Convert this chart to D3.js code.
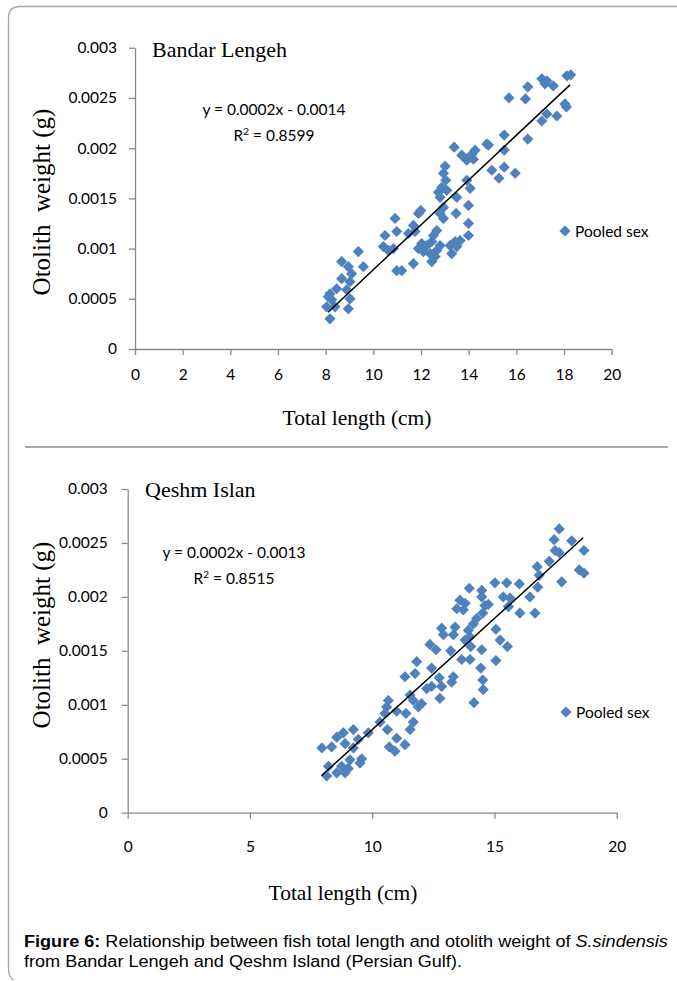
<!DOCTYPE html>
<html><head><meta charset="utf-8">
<script src="https://cdn.jsdelivr.net/npm/d3@7"></script>
<style>html,body{margin:0;padding:0;background:#fff;}svg{display:block;}</style>
</head><body>
<script>
// ---- Data: Bandar Lengeh ----
const lengthTop = [18.12,18.28,17.07,17.28,17.2,17.55,16.48,15.69,16.38,18.04,18.1,17.28,17.07,17.7,16.48,15.49,13.39,14.83,14.76,14.27,14.13,13.71,13.92,14.2,15.49,14.97,15.27,15.49,15.95,13.01,12.94,13.04,12.87,12.73,12.8,13.08,13.92,14.06,13.5,13.99,13.47,12.94,12.8,12.94,13.99,13.99,11.99,11.89,10.91,10.98,11.68,11.75,12.66,12.52,12.45,12.24,12.03,11.89,12.1,12.38,12.59,12.45,12.66,12.8,13.22,13.43,13.64,13.29,13.5,11.47,10.49,10.42,10.63,10.84,10.98,11.19,11.68,9.37,8.67,8.95,9.09,9.58,8.67,9.02,8.46,8.88,8.18,8.11,8.04,8.39,8.25,9.02,8.95,8.18];
const weightTop = [0.00272,0.00273,0.00269,0.00267,0.00264,0.00262,0.00261,0.0025,0.00249,0.00244,0.00241,0.00234,0.00227,0.00232,0.00209,0.00213,0.00201,0.00203,0.00204,0.00198,0.00194,0.00193,0.00188,0.00189,0.00198,0.00178,0.0017,0.00181,0.00175,0.00182,0.00175,0.00168,0.00161,0.00156,0.00151,0.00158,0.00168,0.0016,0.00151,0.00143,0.00135,0.00141,0.00135,0.0013,0.00125,0.00113,0.00138,0.00135,0.0013,0.00117,0.00123,0.00117,0.00118,0.00113,0.00107,0.00103,0.00105,0.001,0.00097,0.00095,0.00092,0.00087,0.00098,0.00103,0.00103,0.00107,0.00108,0.00095,0.00102,0.00115,0.00113,0.00102,0.00098,0.001,0.00078,0.00078,0.00085,0.00097,0.00087,0.00082,0.00075,0.00082,0.0007,0.00067,0.0006,0.00059,0.00055,0.00052,0.00042,0.00042,0.00049,0.0005,0.0004,0.0003];
const trendTop = [0.000223, -0.00144];   // slope, intercept
const trendTopRange = [8.1, 18.25];

// ---- Data: Qeshm Island ----
const lengthBottom = [17.65,17.44,18.16,18.66,17.48,17.65,17.24,16.75,16.83,16.77,18.47,18.66,17.75,13.97,14.48,15.02,15.5,16.02,14.48,15.36,15.64,16.45,15.57,16.04,16.66,13.59,13.8,13.46,13.73,14.61,14.75,14.52,14.27,14.14,13.93,14.0,13.8,13.39,12.84,12.91,13.32,15.06,15.23,15.53,14.48,14.03,14.0,13.66,15.06,13.21,12.36,12.61,14.44,14.52,14.54,14.16,11.82,11.75,11.34,12.43,12.74,13.32,13.25,12.84,12.23,12.43,12.77,11.55,11.68,12.02,11.89,11.38,11.68,11.55,10.66,10.59,11.0,10.52,10.32,10.62,11.0,10.7,10.93,11.34,9.84,9.23,9.43,8.82,8.55,8.34,8.89,7.94,9.57,9.5,9.09,9.02,8.75,8.55,8.14,8.21,8.89,9.23];
const weightBottom = [0.00263,0.00253,0.00252,0.00243,0.00243,0.00241,0.00233,0.00228,0.0022,0.00209,0.00225,0.00222,0.00214,0.00208,0.00206,0.00213,0.00213,0.00212,0.002,0.002,0.00199,0.002,0.00191,0.00185,0.00185,0.00197,0.00194,0.00189,0.00188,0.00192,0.00193,0.00185,0.0018,0.00175,0.00169,0.00163,0.0016,0.00172,0.00171,0.00165,0.00165,0.0017,0.0016,0.00154,0.00151,0.00154,0.00142,0.00142,0.00141,0.0015,0.00156,0.00151,0.00134,0.00123,0.00114,0.00102,0.0014,0.00129,0.00126,0.00134,0.00125,0.00126,0.00121,0.00117,0.00115,0.00117,0.00106,0.00109,0.00104,0.00101,0.00098,0.00092,0.00084,0.00077,0.00104,0.00098,0.00094,0.00092,0.00084,0.00077,0.00069,0.00061,0.00057,0.00063,0.00074,0.00077,0.00068,0.00074,0.0007,0.00061,0.00064,0.0006,0.0005,0.00046,0.00049,0.00041,0.00043,0.00037,0.00034,0.00043,0.00037,0.0006];
const trendBottom = [0.000206, -0.00129];
const trendBottomRange = [7.93, 18.63];

// ---- Ticks & labels ----
const yTicks = [0, 0.0005, 0.001, 0.0015, 0.002, 0.0025, 0.003];
const yTickLabels = ["0","0.0005","0.001","0.0015","0.002","0.0025","0.003"];
const xTicksTop = [0,2,4,6,8,10,12,14,16,18,20];
const xTicksBottom = [0,5,10,15,20];
const titles = ["Bandar Lengeh", "Qeshm Islan"];
const equations = ["y = 0.0002x - 0.0014", "y = 0.0002x - 0.0013"];
const r2Values = ["0.8599", "0.8515"];
const legendLabel = "Pooled sex";
const xAxisTitle = "Total length (cm)";
const yAxisTitle = "Otolith  weight (g)";

const W = 677, H = 981;
const svg = d3.select("body").append("svg").attr("width", W).attr("height", H);

// outer frame
svg.append("path")
  .attr("d", "M677,6.5 L20,6.5 Q8.5,6.5 8.5,18 L8.5,968 Q8.5,978 14,980")
  .attr("fill","none").attr("stroke","#a6a6a6").attr("stroke-width",1.3);
// separator
svg.append("line").attr("x1",25).attr("x2",668).attr("y1",447).attr("y2",447)
  .attr("stroke","#8c8c8c").attr("stroke-width",1.6);

const blue = "#4F81BD";
const diamond = r => `M0,${-r}L${r},0L0,${r}L${-r},0Z`;
const tickFont = "Lato, 'Liberation Sans', sans-serif";
const serif = "'Liberation Serif', 'Times New Roman', serif";

function drawChart(c) {
  const x = d3.scaleLinear().domain([0,20]).range(c.xr);
  const y = d3.scaleLinear().domain([0,0.003]).range(c.yr);
  const g = svg.append("g");

  const ax = g.append("g").attr("transform",`translate(0,${c.yr[0]})`)
    .call(d3.axisBottom(x).tickValues(c.xTicks).tickSize(6).tickSizeOuter(0).tickPadding(c.xPad).tickFormat(d3.format("d")));
  const ay = g.append("g").attr("transform",`translate(${c.xr[0]},0)`)
    .call(d3.axisLeft(y).tickValues(yTicks).tickSize(6).tickSizeOuter(0).tickPadding(c.yPad)
      .tickFormat((d,i)=>yTickLabels[i]));
  [ax, ay].forEach(a => {
    a.selectAll("path.domain").attr("stroke","#8a8a8a").attr("stroke-width",1.3);
    a.selectAll(".tick line").attr("stroke","#8a8a8a").attr("stroke-width",1.3);
    a.selectAll(".tick text").attr("fill","#000").style("font-family",tickFont).style("font-size","15.5px");
  });

  // points
  g.append("g").selectAll("path").data(c.lx.map((v,i)=>[v,c.wy[i]])).join("path")
    .attr("transform", d=>`translate(${x(d[0])},${y(d[1])})`)
    .attr("d", diamond(5.6)).attr("fill", blue);

  // trend line
  g.append("line")
    .attr("x1", x(c.tr[0])).attr("y1", y(c.trend[0]*c.tr[0]+c.trend[1]))
    .attr("x2", x(c.tr[1])).attr("y2", y(c.trend[0]*c.tr[1]+c.trend[1]))
    .attr("stroke","#000").attr("stroke-width",1.5);

  // title
  g.append("text").attr("x", c.titlePos[0]).attr("y", c.titlePos[1])
    .style("font-family", serif).style("font-size","22px").text(c.title);

  // equation
  const eq = g.append("text").attr("text-anchor","middle")
    .style("font-family", tickFont).style("font-size","15.5px");
  eq.append("tspan").attr("x", c.eqPos[0]).attr("y", c.eqPos[1]).text(c.eq);
  const r2 = eq.append("tspan").attr("x", c.eqPos[0]).attr("y", c.eqPos[1]+26);
  r2.append("tspan").text("R");
  r2.append("tspan").attr("dy",-6).style("font-size","10px").text("2");
  r2.append("tspan").attr("dy",6).text(" = " + c.r2);

  // legend
  g.append("path").attr("transform",`translate(${c.legPos[0]},${c.legPos[1]})`)
    .attr("d", diamond(5.6)).attr("fill", blue);
  g.append("text").attr("x", c.legPos[0]+10).attr("y", c.legPos[1]+5.5)
    .style("font-family", tickFont).style("font-size","15.5px").text(legendLabel);

  // axis titles
  g.append("text").attr("text-anchor","middle").attr("x", c.xtPos[0]).attr("y", c.xtPos[1])
    .style("font-family", serif).style("font-size","21.5px").text(xAxisTitle);
  g.append("text").attr("text-anchor","middle")
    .attr("transform",`translate(${c.ytPos[0]},${c.ytPos[1]}) rotate(-90)`)
    .style("font-family", serif).style("font-size","25px").style("white-space","pre")
    .attr("xml:space","preserve").text(yAxisTitle);
}

drawChart({
  xr:[135,611.7], yr:[349,47.7], xTicks:xTicksTop, xPad:14, yPad:12,
  lx:lengthTop, wy:weightTop, trend:trendTop, tr:trendTopRange,
  title:titles[0], titlePos:[152,57], eq:equations[0], r2:r2Values[0], eqPos:[274,115],
  legPos:[565,231], xtPos:[357,425], ytPos:[50,202]
});
drawChart({
  xr:[127.7,616.7], yr:[812.7,489], xTicks:xTicksBottom, xPad:22, yPad:14,
  lx:lengthBottom, wy:weightBottom, trend:trendBottom, tr:trendBottomRange,
  title:titles[1], titlePos:[145,497], eq:equations[1], r2:r2Values[1], eqPos:[234,558],
  legPos:[566,712], xtPos:[343,900], ytPos:[50,635]
});

// caption
const capG = svg.append("g").attr("transform","translate(24,0) scale(1.13,1)");
const cap = capG.append("text").style("font-family","'Liberation Sans', Arial, sans-serif").style("font-size","16px");
const l1 = cap.append("tspan").attr("x",0).attr("y",947);
l1.append("tspan").style("font-weight","bold").text("Figure 6:");
l1.append("tspan").text(" Relationship between fish total length and otolith weight of ");
l1.append("tspan").style("font-style","italic").text("S.sindensis");
cap.append("tspan").attr("x",0).attr("y",967).text("from Bandar Lengeh and Qeshm Island (Persian Gulf).");
</script>
</body></html>
